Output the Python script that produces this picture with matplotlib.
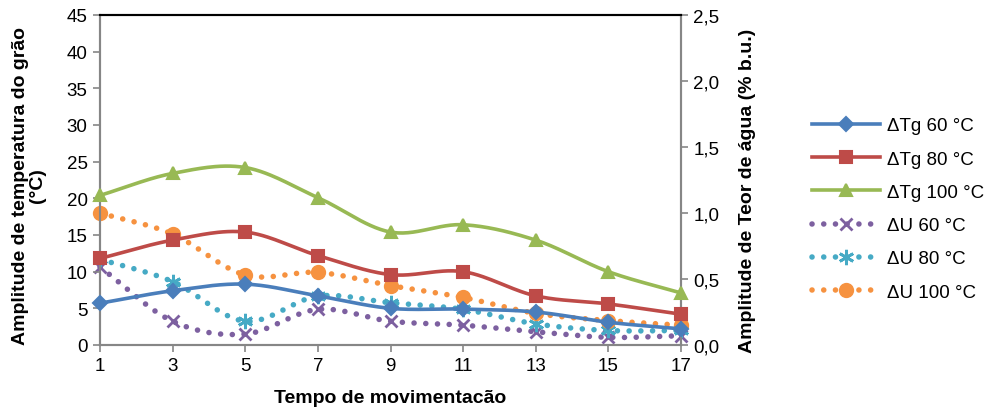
import numpy as np
import matplotlib
matplotlib.use('Agg')
import matplotlib.pyplot as plt
from matplotlib.ticker import FuncFormatter

plt.rcParams['font.family'] = ['Liberation Sans', 'DejaVu Sans']

# data
tempo = [1, 3, 5, 7, 9, 11, 13, 15, 17]
tg60 = [5.7, 7.4, 8.3, 6.7, 5.0, 4.9, 4.5, 3.1, 2.2]
tg80 = [11.8, 14.3, 15.4, 12.2, 9.6, 10.0, 6.7, 5.6, 4.2]
tg100 = [20.4, 23.4, 24.2, 20.1, 15.4, 16.4, 14.3, 10.0, 7.1]
u60 = [0.59, 0.18, 0.083, 0.27, 0.18, 0.15, 0.10, 0.058, 0.07]
u80 = [0.65, 0.48, 0.18, 0.37, 0.32, 0.27, 0.16, 0.11, 0.11]
u100 = [1.0, 0.84, 0.53, 0.55, 0.45, 0.36, 0.24, 0.185, 0.15]

labels_tg = ['\u0394Tg 60 \u00b0C', '\u0394Tg 80 \u00b0C', '\u0394Tg 100 \u00b0C']
labels_u = ['\u0394U 60 \u00b0C', '\u0394U 80 \u00b0C', '\u0394U 100 \u00b0C']


def smooth(x, y, n=30):
    # catmull-rom curve through the points, like excel "smoothed line"
    x = np.asarray(x, float)
    y = np.asarray(y, float)
    px = np.concatenate([[2 * x[0] - x[1]], x, [2 * x[-1] - x[-2]]])
    py = np.concatenate([[2 * y[0] - y[1]], y, [2 * y[-1] - y[-2]]])
    xs, ys = [], []
    t = np.linspace(0, 1, n)
    for i in range(1, len(px) - 2):
        for p, out in ((px, xs), (py, ys)):
            p0, p1, p2, p3 = p[i - 1], p[i], p[i + 1], p[i + 2]
            out.extend(0.5 * (2 * p1 + (-p0 + p2) * t
                              + (2 * p0 - 5 * p1 + 4 * p2 - p3) * t ** 2
                              + (-p0 + 3 * p1 - 3 * p2 + p3) * t ** 3))
    return np.array(xs), np.array(ys)


fig = plt.figure(figsize=(9.89, 4.14), dpi=100)
ax = fig.add_axes([100 / 989, 68 / 414, 581 / 989, 330 / 414])
ax2 = ax.twinx()

grey = '#868686'
dot = (0, (0.01, 2.1))

tg_series = [(tg60, '#4A7EBB', 'D', 7), (tg80, '#BE4B48', 's', 8), (tg100, '#98B954', '^', 9)]
u_series = [(u60, '#7D60A0', 'x', 9), (u80, '#46AAC5', (6, 2, 0), 11), (u100, '#F69240', 'o', 9)]

handles = []
for (vals, c, m, ms), lab in zip(tg_series, labels_tg):
    sx, sy = smooth(tempo, vals)
    ax.plot(sx, sy, color=c, lw=2.6, solid_capstyle='round', zorder=3, clip_on=False)
    ax.plot(tempo, vals, ls='none', marker=m, ms=ms, color=c, mec=c, mew=1.5, zorder=4, clip_on=False)
    h, = ax.plot([], [], color=c, lw=2.6, marker=m, ms=ms, mew=1.5)
    handles.append((h, lab))

for (vals, c, m, ms), lab in zip(u_series, labels_u):
    sx, sy = smooth(tempo, vals)
    ax2.plot(sx, sy, color=c, lw=4.0, ls=dot, dash_capstyle='round', zorder=3, clip_on=False)
    ax2.plot(tempo, vals, ls='none', marker=m, ms=ms, color=c, mec=c, mew=2, zorder=4, clip_on=False)
    h, = ax2.plot([], [], color=c, lw=4.0, ls=dot, dash_capstyle='round', marker=m, ms=ms, mew=2)
    handles.append((h, lab))

ax.set_xlim(1, 17)
ax.set_ylim(0, 45)
ax.set_xticks(tempo)
ax.set_yticks(np.arange(0, 46, 5))
ax2.set_ylim(0, 2.5)
ax2.set_yticks(np.arange(0, 2.51, 0.5))
ax2.yaxis.set_major_formatter(FuncFormatter(lambda v, p: ('%.1f' % v).replace('.', ',')))

for a in (ax, ax2):
    for s in ('left', 'right', 'bottom'):
        a.spines[s].set_color(grey)
        a.spines[s].set_linewidth(1.5)
    a.spines['top'].set_color('black')
    a.spines['top'].set_linewidth(1.5)
    a.tick_params(colors=grey, labelcolor='black', labelsize=13.5, length=5, width=1.2,
                  direction='out', pad=4)
ax.set_zorder(ax2.get_zorder() + 1)
ax.patch.set_visible(False)

fig.text(390 / 989, 1 - 399 / 414, 'Tempo de movimentac\u00e3o', fontsize=14, fontweight='bold',
         ha='center', va='center')
fig.text(29 / 989, 1 - 186 / 414, 'Amplitude de temperatura do gr\u00e3o\n(\u00b0C)', fontsize=14,
         fontweight='bold', rotation=90, ha='center', va='center', multialignment='center',
         linespacing=1.0)
fig.text(748 / 989, 1 - 191 / 414, 'Amplitude de Teor de \u00e1gua (% b.u.)', fontsize=14,
         fontweight='bold', rotation=90, ha='center', va='center')

fig.legend([h for h, _ in handles], [l for _, l in handles], loc='upper left',
           bbox_to_anchor=(803 / 989, (414 - 109) / 414), frameon=False, fontsize=13.5,
           handlelength=3.6, handletextpad=0.4, labelspacing=0.86, numpoints=1, borderpad=0)

plt.savefig('out.png', dpi=100)
